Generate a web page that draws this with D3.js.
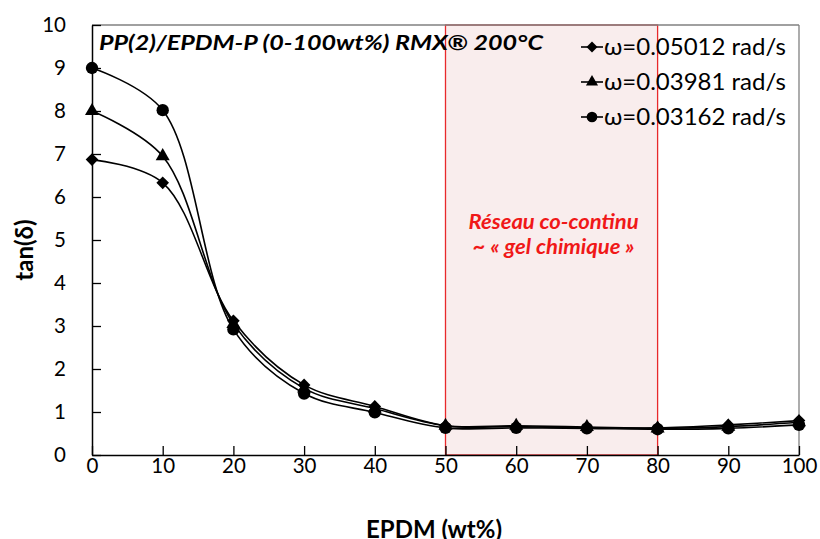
<!DOCTYPE html>
<html><head><meta charset="utf-8">
<script src="https://cdn.jsdelivr.net/npm/d3@7"></script>
<style>body{margin:0;background:#fff}svg{display:block}text{font-family:Lato,"Open Sans",sans-serif}</style>
</head><body><svg id="c" width="820" height="539"></svg>
<script>
const xValues = [0,10,20,30,40,50,60,70,80,90,100];
const seriesNames = ["ω=0.05012 rad/s","ω=0.03981 rad/s","ω=0.03162 rad/s"];
const diamondVals = [6.87,6.33,3.12,1.63,1.13,0.68,0.66,0.63,0.63,0.70,0.80];
const triangleVals = [8.0,6.95,3.05,1.55,1.08,0.68,0.68,0.65,0.62,0.66,0.76];
const circleVals = [9.0,8.02,2.92,1.43,0.99,0.63,0.63,0.62,0.60,0.62,0.70];
const yTicks = [0,1,2,3,4,5,6,7,8,9,10];
const xTicks = [0,10,20,30,40,50,60,70,80,90,100];
const zoneRange = [50,80];
const title = "PP(2)/EPDM-P (0-100wt%) RMX® 200°C";
const zoneLines = ["Réseau co-continu","~ « gel chimique »"];

const svg = d3.select("#c");
const L=92,R=799,T=25,B=455;
const x = d3.scaleLinear().domain([0,100]).range([L,R]);
const y = d3.scaleLinear().domain([0,10]).range([B,T]);

// zone
svg.append("rect").attr("x",x(zoneRange[0])).attr("y",y(10)).attr("width",x(zoneRange[1])-x(zoneRange[0])).attr("height",y(0)-y(10))
  .attr("fill","#F9EDED").attr("stroke","#E8292B").attr("stroke-width",1.3);

// frame top/right
svg.append("line").attr("x1",L).attr("x2",R).attr("y1",T).attr("y2",T).attr("stroke","#808080").attr("stroke-width",1.3);
svg.append("line").attr("x1",R).attr("x2",R).attr("y1",T).attr("y2",B).attr("stroke","#808080").attr("stroke-width",1.3);

// axes
const ya = svg.append("g").attr("transform",`translate(${L},0)`).call(d3.axisLeft(y).tickValues(yTicks).tickSizeInner(-9).tickSizeOuter(0).tickPadding(26));
const xa = svg.append("g").attr("transform",`translate(0,${B})`).call(d3.axisBottom(x).tickValues(xTicks).tickSizeInner(-9).tickSizeOuter(0).tickPadding(20));
[ya,xa].forEach(a=>{a.select(".domain").attr("stroke","#000").attr("stroke-width",1.5);a.selectAll(".tick line").attr("stroke","#000").attr("stroke-width",1.3);a.selectAll("text").attr("font-size",20.5).attr("fill","#000").style("font-family","Lato,sans-serif");});
xa.selectAll("text").attr("dy","0.35em").attr("y",11);

// zone text
const zoneLens=[170,162];
zoneLines.forEach((t,i)=>svg.append("text").attr("x",(x(zoneRange[0])+x(zoneRange[1]))/2+2).attr("y",229+i*25)
  .attr("text-anchor","middle").attr("font-size",20).attr("font-weight","bold").attr("font-style","italic").attr("fill","#F01818")
  .attr("textLength",zoneLens[i]).attr("lengthAdjust","spacingAndGlyphs").text(t));

// title
svg.append("text").attr("x",99).attr("y",50).attr("font-size",21).attr("font-weight","bold").attr("font-style","italic")
  .attr("textLength",444).attr("lengthAdjust","spacingAndGlyphs").text(title);

// series
const diamond = {draw(ctx,size){const r=Math.sqrt(size/2);ctx.moveTo(0,-r);ctx.lineTo(r,0);ctx.lineTo(0,r);ctx.lineTo(-r,0);ctx.closePath();}};
const series = [
 {vals:diamondVals, sym:diamond, size:80},
 {vals:triangleVals, sym:d3.symbolTriangle, size:85},
 {vals:circleVals, sym:d3.symbolCircle, size:120}
];
const line = d3.line().x((d,i)=>x(xValues[i])).y(d=>y(d)).curve(d3.curveCatmullRom.alpha(0.5));
series.forEach(s=>{
  svg.append("path").attr("d",line(s.vals)).attr("fill","none").attr("stroke","#000").attr("stroke-width",1.6);
});
series.forEach(s=>{
  svg.append("g").selectAll("path").data(s.vals).join("path")
   .attr("transform",(d,i)=>`translate(${x(xValues[i])},${y(d)})`)
   .attr("d",d3.symbol().type(s.sym).size(s.size)).attr("fill","#000");
});

// legend
const legY=[47,82,117];
series.forEach((s,i)=>{
  const g=svg.append("g").attr("transform",`translate(0,${legY[i]})`);
  g.append("line").attr("x1",581).attr("x2",603).attr("stroke","#000").attr("stroke-width",1.6);
  g.append("path").attr("transform","translate(592,0)").attr("d",d3.symbol().type(s.sym).size(s.size*0.75)).attr("fill","#000");
  g.append("text").attr("x",604).attr("dy","0.35em").attr("font-size",24).text(seriesNames[i]);
});

// axis titles
svg.append("text").attr("transform","translate(33,250) rotate(-90)").attr("text-anchor","middle").attr("font-size",24).attr("font-weight","bold").text("tan(δ)");
svg.append("text").attr("x",434).attr("y",538).attr("text-anchor","middle").attr("font-size",24).attr("font-weight","bold").text("EPDM (wt%)");
</script></body></html>
